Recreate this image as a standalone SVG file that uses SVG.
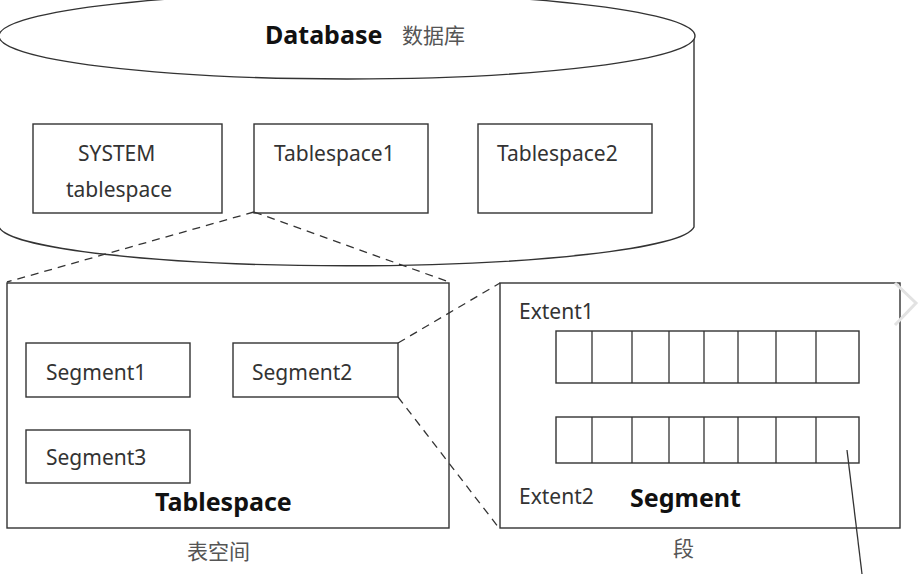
<svg xmlns="http://www.w3.org/2000/svg" width="922" height="574" viewBox="0 0 922 574">
<style>
.bg{fill:#ffffff}
.shape{fill:#ffffff;stroke:#333333;stroke-width:1.4}
.line{fill:none;stroke:#333333;stroke-width:1.3}
.dash{fill:none;stroke:#333333;stroke-width:1.3;stroke-dasharray:8 6}
.t{font-family:"Noto Sans","Liberation Sans",sans-serif;font-size:21px;fill:#333333}
.b{font-family:"Noto Sans","Liberation Sans",sans-serif;font-size:25px;font-weight:bold;fill:#111111}
.cn{font-family:"Noto Sans CJK SC","Noto Sans",sans-serif;font-size:21px;fill:#555555}
</style>
<rect class="bg" x="0" y="0" width="922" height="574"/>

<g id="database">
  <path class="shape" d="M -1 36 L -1 227 A 348 41 0 0 0 694 227 L 694 36"/>
  <ellipse class="shape" cx="347" cy="36" rx="348" ry="43"/>
  <text class="b" x="265" y="44">Database</text>
  <text class="cn" x="402" y="43">数据库</text>
</g>

<g id="system-tablespace">
  <rect class="shape" x="33" y="124" width="189" height="89"/>
  <text class="t" x="78" y="161">SYSTEM</text>
  <text class="t" x="66" y="197">tablespace</text>
</g>

<g id="tablespace1">
  <rect class="shape" x="254" y="124" width="174" height="89"/>
  <text class="t" x="274" y="161">Tablespace1</text>
</g>

<g id="tablespace2">
  <rect class="shape" x="478" y="124" width="174" height="89"/>
  <text class="t" x="497" y="161">Tablespace2</text>
</g>

<g id="tablespace">
  <rect class="shape" x="7" y="283" width="442" height="245"/>
  <text class="b" x="155" y="511">Tablespace</text>
  <text class="cn" x="187" y="559">表空间</text>
</g>

<g id="segment1">
  <rect class="shape" x="26" y="343" width="164" height="54"/>
  <text class="t" x="46" y="380">Segment1</text>
</g>

<g id="segment2">
  <rect class="shape" x="233" y="343" width="165" height="54"/>
  <text class="t" x="252" y="380">Segment2</text>
</g>

<g id="segment3">
  <rect class="shape" x="26" y="430" width="164" height="53"/>
  <text class="t" x="46" y="465">Segment3</text>
</g>

<g id="segment">
  <rect class="shape" x="500" y="283" width="400" height="245"/>
  <text class="t" x="519" y="319">Extent1</text>
  <text class="t" x="519" y="504">Extent2</text>
  <text class="b" x="630" y="507">Segment</text>
  <text class="cn" x="673" y="556">段</text>
</g>

<g id="extent1">
  <rect class="shape" x="556" y="331" width="303" height="52"/>
  <path class="line" d="M592 331V383M632 331V383M669 331V383M704 331V383M738 331V383M776 331V383M816 331V383"/>
</g>

<g id="extent2">
  <rect class="shape" x="556" y="417" width="303" height="46"/>
  <path class="line" d="M592 417V463M632 417V463M669 417V463M704 417V463M738 417V463M776 417V463M816 417V463"/>
</g>

<g id="connectors">
  <line class="dash" x1="254" y1="212" x2="7" y2="282"/>
  <line class="dash" x1="254" y1="212" x2="449" y2="282"/>
  <line class="dash" x1="398" y1="343" x2="500" y2="283"/>
  <line class="dash" x1="398" y1="397" x2="499" y2="528"/>
  <line class="line" x1="847" y1="450" x2="862" y2="574"/>
</g>

<polyline points="895,283 916,303 895,325" fill="none" stroke="#e2e2e2" stroke-width="3"/>
</svg>
